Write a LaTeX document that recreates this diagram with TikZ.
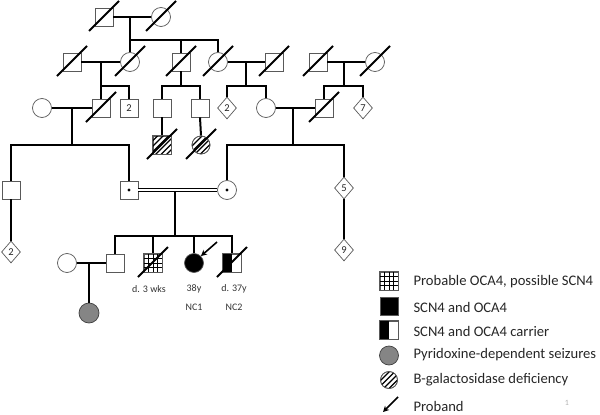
\documentclass[tikz,border=0pt]{standalone}
\usepackage{fontspec}
\setmainfont{Carlito}
\usetikzlibrary{shapes.geometric,calc,arrows.meta}
\newcommand{\hatchsq}[1]{%
  \begin{scope}
    \clip (#1.south west) rectangle (#1.north east);
    \foreach \d in {-30,-24.5,...,30}
      \draw[hatchln] ($(#1.center)+(\d-14,14)$) -- ($(#1.center)+(\d+14,-14)$);
  \end{scope}
  \draw[outl] (#1.south west) rectangle (#1.north east);}
\newcommand{\hatchci}[2]{%
  \begin{scope}
    \clip (#1.center) circle (#2);
    \foreach \d in {-30,-24.5,...,30}
      \draw[hatchln] ($(#1.center)+(\d-14,14)$) -- ($(#1.center)+(\d+14,-14)$);
  \end{scope}
  \draw[outl] (#1.center) circle (#2);}
\newcommand{\gridsq}[1]{%
  \begin{scope}
    \clip (#1.south west) rectangle (#1.north east);
    \foreach \d in {-4.5,0,4.5}{
      \draw[gridln] ($(#1.center)+(\d,-10)$) -- ($(#1.center)+(\d,10)$);
      \draw[gridln] ($(#1.center)+(-10,\d)$) -- ($(#1.center)+(10,\d)$);}
  \end{scope}
  \draw[outl] (#1.south west) rectangle (#1.north east);}
\newcommand{\slashit}[1]{\draw[sl] ($(#1.center)+(-15,14)$) -- ($(#1.center)+(15,-16)$);}
\begin{document}
\begin{tikzpicture}[x=1pt,y=-1pt,
  sym/.style={draw=black!65,line width=0.7pt,fill=white,inner sep=0pt,
    font=\fontsize{10.5}{12}\selectfont,text=black!85},
  sq/.style={sym,rectangle,minimum size=18pt},
  cir/.style={sym,circle,minimum size=19pt},
  dia/.style={sym,diamond,minimum width=19pt,minimum height=22pt},
  ln/.style={line width=2pt,black},
  sl/.style={line width=1.8pt,black},
  outl/.style={draw=black!65,line width=0.7pt},
  hatchln/.style={line width=1.4pt,black},
  gridln/.style={line width=0.6pt,black},
  lbl/.style={font=\fontsize{10}{12}\selectfont,text=black!80},
  leg/.style={anchor=west,font=\fontsize{14.6}{16}\selectfont,text=black!85}
]
\useasboundingbox (0,0) rectangle (600,415);

% ---------- nodes ----------
% generation I
\node[sq]  (A1) at (104,17) {};
\node[cir] (A2) at (161,17) {};
% generation II
\node[sq]  (B1) at (72,62) {};
\node[cir] (B2) at (130,62) {};
\node[sq]  (B3) at (181,62) {};
\node[cir] (B4) at (218,62) {};
\node[sq]  (B5) at (274,62) {};
\node[sq]  (B6) at (318,62) {};
\node[cir] (B7) at (375,62) {};
% generation III
\node[cir] (C1) at (42,108) {};
\node[sq]  (C2) at (101,108) {};
\node[sq]  (C3) at (129,108) {2};
\node[sq]  (C4) at (162,108) {};
\node[sq]  (C5) at (200,108) {};
\node[dia] (C6) at (227,108) {2};
\node[cir] (C7) at (266,108) {};
\node[sq]  (C8) at (324,108) {};
\node[dia] (C9) at (363,108) {7};
\node[sq]  (D1) at (162,145) {};
\node[cir,minimum size=18pt] (D2) at (201,145) {};
% generation IV
\node[sq]  (E1) at (11,190) {};
\node[sq]  (E2) at (129,190) {};
\node[cir] (E3) at (227,190) {};
\node[dia] (E4) at (344,188) {5};
\node[dia] (F1) at (11,252) {2};
\node[dia] (F2) at (344,250) {9};
% generation V
\node[cir] (G0) at (67,263) {};
\node[sq]  (G1) at (115,263) {};
\node[sq]  (G2) at (153,263) {};
\node[cir,fill=black] (G3) at (194,263) {};
\node[sq]  (G4) at (232,263) {};
\node[cir,fill=black!48,draw=black!75,minimum size=20pt] (H1) at (89,313) {};

% ---------- junction coordinates ----------
\coordinate (a)  at (130,17);  \coordinate (sa) at (130,40);
\coordinate (b)  at (101,62);  \coordinate (sb) at (101,86);
\coordinate (sc) at (181,86);
\coordinate (d)  at (246,62);  \coordinate (sd) at (246,86);
\coordinate (e)  at (344,62);  \coordinate (se) at (344,86);
\coordinate (f)  at (72,108);  \coordinate (sf) at (72,145);
\coordinate (g)  at (293,108); \coordinate (sg) at (293,145);
\coordinate (h)  at (175,192); \coordinate (sh) at (175,236);
\coordinate (k)  at (89,263);

% ---------- connectors ----------
\draw[ln] (A1.east) -- (A2.west);
\draw[ln] (a) -- (B2.north);
\draw[ln] (sa) -| (B4.north);
\draw[ln] (B3.north) -- (B3.north |- sa);

\draw[ln] (B1.east) -- (B2.west);
\draw[ln] (b) -- (sb);
\draw[ln] (C2.north) |- (sb) -| (C3.north);
\draw[ln] (B3.south) -- (sc);
\draw[ln] (C4.north) |- (sc) -| (C5.north);
\draw[ln] (B4.east) -- (B5.west);
\draw[ln] (d) -- (sd);
\draw[ln] (C6.north) |- (sd) -| (C7.north);
\draw[ln] (B6.east) -- (B7.west);
\draw[ln] (e) -- (se);
\draw[ln] (C8.north) |- (se) -| (C9.north);

\draw[ln] (C4.south) -- (D1.north);
\draw[ln] (C5.south) -- (D2.north);
\draw[ln] (C1.east) -- (C2.west);
\draw[ln] (f) -- (sf);
\draw[ln] (E1.north) |- (sf) -| (E2.north);
\draw[ln] (C7.east) -- (C8.west);
\draw[ln] (g) -- (sg);
\draw[ln] (E3.north) |- (sg) -| (E4.north);
\draw[ln] (E1.south) -- (F1.north);
\draw[ln] (E4.south) -- (F2.north);

\draw[line width=1.5pt,double distance=1.7pt] (E2.east) -- (E3.west);
\draw[ln] (h) -- (sh);
\draw[ln] (G1.north) |- (sh) -| (G4.north);
\draw[ln] (G2.north) -- (G2.north |- sh);
\draw[ln] (G3.north) -- (G3.north |- sh);
\draw[ln] (G0.east) -- (G1.west);
\draw[ln] (k) -- (H1.north);

% ---------- fills ----------
\hatchsq{D1}
\hatchci{D2}{9pt}
\gridsq{G2}
\fill[black] (G4.south west) rectangle (G4.north);
\draw[outl] (G4.south west) rectangle (G4.north east);
\fill[black] (E2.center) circle (1.6pt);
\fill[black] (E3.center) circle (1.6pt);

% ---------- deceased ----------
\foreach \n in {A1,A2,B1,B2,B3,B4,B5,B6,B7,C2,C8,D1,D2,G2,G4} {\slashit{\n}}

% ---------- proband arrow ----------
\coordinate (pa) at (217,242);
\draw[line width=1.6pt,-{Stealth[length=6pt,width=6pt]}] (pa) -- (G3.north east);

% ---------- labels ----------
\node[lbl] (l1) at (149,289) {d. 3 wks};
\node[lbl] (l2) at (194,289) {38y};
\node[lbl] (l3) at (234,289) {d. 37y};
\node[lbl] (l4) at (194,307) {NC1};
\node[lbl] (l5) at (234,307) {NC2};

% ---------- legend ----------
\node[sq] (L1) at (389,281) {};
\gridsq{L1}
\node[sq,fill=black] (L2) at (389,306) {};
\node[sq] (L3) at (389,330) {};
\fill[black] (L3.south west) rectangle (L3.north);
\draw[outl] (L3.south west) rectangle (L3.north east);
\node[cir,fill=black!48,draw=black!75] (L4) at (389,355.5) {};
\node[cir,minimum size=17pt] (L5) at (389,380) {};
\hatchci{L5}{8.5pt}
\coordinate (L6a) at (398,397);
\coordinate (L6b) at (383,412);
\draw[line width=1.6pt,-{Stealth[length=6pt,width=6pt]}] (L6a) -- (L6b);

\node[leg] (T1) at (410,282) {Probable OCA4, possible SCN4};
\node[leg] (T2) at (410,307) {SCN4 and OCA4};
\node[leg] (T3) at (410,331) {SCN4 and OCA4 carrier};
\node[leg] (T4) at (410,355) {Pyridoxine-dependent seizures};
\node[leg] (T5) at (410,380) {B-galactosidase deficiency};
\node[leg] (T6) at (410,406) {Proband};
\node[font=\fontsize{8}{9}\selectfont,text=black!30] (pg) at (567,403) {1};
\end{tikzpicture}
\end{document}
